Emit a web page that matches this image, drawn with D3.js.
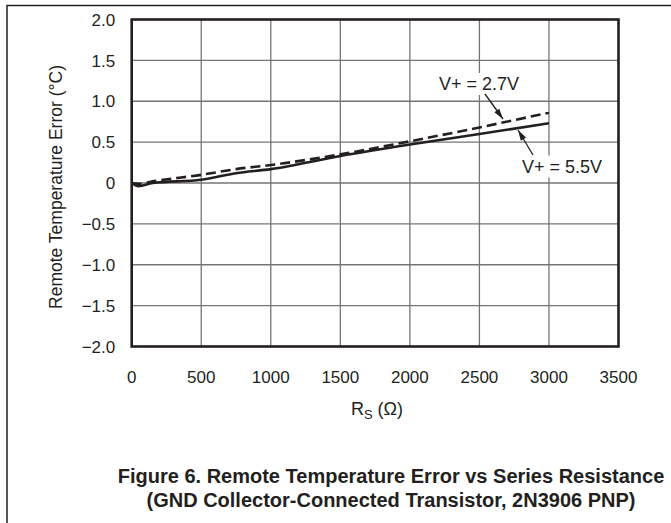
<!DOCTYPE html>
<html>
<head>
<meta charset="utf-8">
<script src="https://cdn.jsdelivr.net/npm/d3@7"></script>
<style>
  body { margin: 0; background: #fff; }
  text { font-family: "Liberation Sans", Arial, sans-serif; fill: #231f20; }
</style>
</head>
<body>
<div id="chart"></div>
<script>
// series resistance (ohm) and remote temperature error (degC)
var rs = [0, 50, 150, 500, 750, 1000, 1500, 2000, 2500, 3000];
var err27 = [0, -0.01, 0.02, 0.10, 0.17, 0.22, 0.35, 0.51, 0.68, 0.86];
var err55 = [0, -0.04, 0.0, 0.04, 0.12, 0.17, 0.33, 0.47, 0.60, 0.73];
var xTicks = [0, 500, 1000, 1500, 2000, 2500, 3000, 3500];
var yTicks = [2, 1.5, 1, 0.5, 0, -0.5, -1, -1.5, -2];
var yTickLabels = ['2.0', '1.5', '1.0', '0.5', '0', '\u22120.5', '\u22121.0', '\u22121.5', '\u22122.0'];

var W = 671, H = 523;
var m = { left: 131.7, top: 19.5, right: 52.5, bottom: 176.5 };
var w = W - m.left - m.right, h = H - m.top - m.bottom;

var svg = d3.select('#chart').append('svg')
  .attr('width', W)
  .attr('height', H);

// page frame
svg.append('path')
  .attr('d', 'M7,' + H + 'V5.5H' + W)
  .attr('fill', 'none')
  .attr('stroke', '#231f20')
  .attr('stroke-width', 1.5);

var x = d3.scaleLinear().domain([0, 3500]).range([0, w]);
var y = d3.scaleLinear().domain([-2, 2]).range([h, 0]);

var g = svg.append('g').attr('transform', 'translate(' + m.left + ',' + m.top + ')');

// grid
g.append('g').selectAll('line').data(xTicks.slice(1, -1)).enter().append('line')
  .attr('x1', d => x(d)).attr('x2', d => x(d))
  .attr('y1', 0).attr('y2', h)
  .attr('stroke', '#757575').attr('stroke-width', 1.3);
g.append('g').selectAll('line').data(yTicks.slice(1, -1)).enter().append('line')
  .attr('x1', 0).attr('x2', w)
  .attr('y1', d => y(d)).attr('y2', d => y(d))
  .attr('stroke', '#757575').attr('stroke-width', 1.3);

// tick labels
g.append('g').selectAll('text').data(xTicks).enter().append('text')
  .attr('x', d => x(d)).attr('y', h + 36.5)
  .attr('text-anchor', 'middle')
  .attr('font-size', 17)
  .text(d => d);
g.append('g').selectAll('text').data(yTicks).enter().append('text')
  .attr('x', -16.5).attr('y', d => y(d) + 6.2)
  .attr('text-anchor', 'end')
  .attr('font-size', 17)
  .text((d, i) => yTickLabels[i]);

// axis titles
var xt = svg.append('text')
  .attr('x', 377).attr('y', 415)
  .attr('text-anchor', 'middle')
  .attr('font-size', 18);
xt.append('tspan').text('R');
xt.append('tspan').attr('font-size', 13).attr('dy', 4).text('S');
xt.append('tspan').attr('dy', -4).text(' (\u03A9)');

svg.append('text')
  .attr('transform', 'translate(62,187) rotate(-90)')
  .attr('text-anchor', 'middle')
  .attr('font-size', 17.5)
  .text('Remote Temperature Error (\u00B0C)');

// data lines
var line = d3.line().x(d => x(d[0])).y(d => y(d[1])).curve(d3.curveMonotoneX);
g.append('path')
  .datum(rs.map((r, i) => [r, err55[i]]))
  .attr('d', line)
  .attr('fill', 'none').attr('stroke', '#231f20').attr('stroke-width', 2.6);
g.append('path')
  .datum(rs.map((r, i) => [r, err27[i]]))
  .attr('d', line)
  .attr('fill', 'none').attr('stroke', '#231f20').attr('stroke-width', 2.6)
  .attr('stroke-dasharray', '10,5');

// annotations
function label(txt, cx, base) {
  var t = g.append('text')
    .attr('x', cx).attr('y', base)
    .attr('text-anchor', 'middle')
    .attr('font-size', 18)
    .text(txt);
  var b = t.node().getBBox();
  g.insert('rect', function() { return t.node(); })
    .attr('x', b.x - 3).attr('y', b.y - 1)
    .attr('width', b.width + 6).attr('height', b.height + 2)
    .attr('fill', '#fff');
}
function arrow(x1, y1, x2, y2) {
  g.append('line')
    .attr('x1', x1).attr('y1', y1).attr('x2', x2).attr('y2', y2)
    .attr('stroke', '#231f20').attr('stroke-width', 1.3);
  var a = Math.atan2(y2 - y1, x2 - x1), L = 11, s = 0.28;
  var p = [[x2, y2],
    [x2 - L * Math.cos(a - s), y2 - L * Math.sin(a - s)],
    [x2 - L * Math.cos(a + s), y2 - L * Math.sin(a + s)]];
  g.append('path').attr('d', 'M' + p.join('L') + 'Z').attr('fill', '#231f20');
}
label('V+ = 2.7V', 479 - m.left, 90 - m.top);
arrow(485 - m.left, 94 - m.top, 503 - m.left, 119 - m.top);
label('V+ = 5.5V', 562 - m.left, 172.5 - m.top);
arrow(533 - m.left, 155 - m.top, 518 - m.left, 130 - m.top);

// border
g.append('rect')
  .attr('width', w).attr('height', h)
  .attr('fill', 'none').attr('stroke', '#231f20').attr('stroke-width', 2.6);

// caption
svg.append('text')
  .attr('x', 391).attr('y', 483)
  .attr('text-anchor', 'middle')
  .attr('font-size', 20).attr('font-weight', 'bold')
  .text('Figure 6. Remote Temperature Error vs Series Resistance');
svg.append('text')
  .attr('x', 391).attr('y', 507)
  .attr('text-anchor', 'middle')
  .attr('font-size', 20).attr('font-weight', 'bold')
  .text('(GND Collector-Connected Transistor, 2N3906 PNP)');
</script>
</body>
</html>
